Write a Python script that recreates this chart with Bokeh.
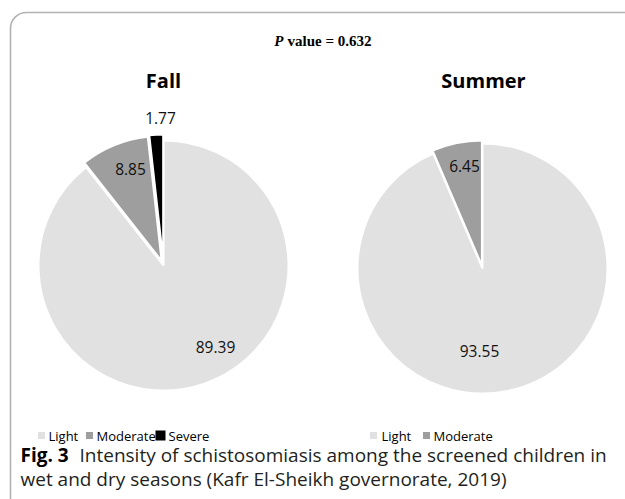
import math
from bokeh.plotting import figure
from bokeh.models import Range1d, BoxAnnotation, ColumnDataSource
from bokeh.core.properties import value
from bokeh.embed import file_html
from bokeh.resources import INLINE

# ---- data ----
categories = ["Light", "Moderate", "Severe"]
fall_values = [89.39, 8.85, 1.77]
summer_values = [93.55, 6.45]
season_titles = ["Fall", "Summer"]
p_value_label = "0.632"
colors = ["#e1e1e1", "#9e9e9e", "#000000"]
caption_bold = "Fig. 3"
caption_line1 = "Intensity of schistosomiasis among the screened children in"
caption_line2 = "wet and dry seasons (Kafr El-Sheikh governorate, 2019)"

W, H = 625, 499

def Y(y):  # reference screen y -> data y
    return H - y

p = figure(width=W, height=H, output_backend="svg", toolbar_location=None,
           x_range=Range1d(0, W), y_range=Range1d(0, H), min_border=0)
p.axis.visible = False
p.grid.visible = False
p.outline_line_color = None
p.background_fill_color = "white"

# rounded border
p.add_layout(BoxAnnotation(left=10, right=660, top=Y(12), bottom=Y(515),
                           border_radius=16, fill_color=None, fill_alpha=0,
                           line_color="black", line_width=1.6))

FONT = value("Open Sans")
CAP = value("Open Sans")

def pie(vals, cx, cy, r, explode, label_pos):
    total = sum(vals)
    a = 0.0
    xs, ys, st, en, col = [], [], [], [], []
    for i, v in enumerate(vals):
        b = a + v / total
        mid = 90 - 360 * (a + b) / 2
        d = explode[i]
        xs.append(cx + d * math.cos(math.radians(mid)))
        ys.append(Y(cy) + d * math.sin(math.radians(mid)))
        st.append(math.radians(90 - 360 * b))
        en.append(math.radians(90 - 360 * a))
        col.append(colors[i])
        a = b
    src = ColumnDataSource(dict(x=xs, y=ys, s=st, e=en, c=col))
    p.wedge(x="x", y="y", radius=r, start_angle="s", end_angle="e",
            direction="anticlock", fill_color="c", line_color="white",
            line_width=2, source=src)
    lsrc = ColumnDataSource(dict(x=[lp[0] for lp in label_pos],
                                 y=[Y(lp[1]) for lp in label_pos],
                                 t=[f"{v:.2f}" for v in vals]))
    p.text(x="x", y="y", text="t", source=lsrc, text_font=FONT,
           text_font_size="15.5px", text_align="center",
           text_baseline="middle", text_color="#111111")

pie(fall_values, 163, 265, 125, [0, 5, 6], [(215, 346), (130, 168), (160, 117)])
pie(summer_values, 482, 268, 125, [0, 3], [(479, 350), (464, 165)])

# titles
p.text(x=[163, 483], y=[Y(80), Y(80)], text=season_titles, text_font=CAP,
       text_font_style="bold", text_font_size="20px", text_align="center",
       text_baseline="middle", text_color="black")

# P value title
p.text(x=[283], y=[Y(40)], text=["P"], text_font=value("Liberation Serif"),
       text_font_style="bold italic", text_font_size="15px", text_align="right",
       text_baseline="middle", text_color="black")
p.text(x=[287], y=[Y(40)], text=["value = " + p_value_label],
       text_font=value("Liberation Serif"), text_font_style="bold",
       text_font_size="15px", text_align="left", text_baseline="middle",
       text_color="black")

# legends
LY = 435
def legend(items, sq_x, tx_x, sizes):
    p.rect(x=sq_x, y=[Y(LY)] * len(items), width=sizes, height=sizes,
           fill_color=[colors[categories.index(c)] for c in items],
           line_color=None)
    p.text(x=tx_x, y=[Y(LY)] * len(items), text=items, text_font=FONT,
           text_font_size="13px", text_align="left", text_baseline="middle",
           text_color="black")

legend(categories, [41, 89, 160], [48, 96, 168], [7, 7, 10])
legend(categories[:2], [373, 426], [381, 433], [7, 7])

# caption
p.text(x=[20], y=[Y(454)], text=[caption_bold], text_font=CAP,
       text_font_style="bold", text_font_size="19px", text_align="left",
       text_baseline="middle", text_color="black")
p.text(x=[79], y=[Y(454)], text=[caption_line1], text_font=CAP,
       text_font_size="19px", text_align="left", text_baseline="middle",
       text_color="#231f20")
p.text(x=[20], y=[Y(478)], text=[caption_line2], text_font=CAP,
       text_font_size="19px", text_align="left", text_baseline="middle",
       text_color="#231f20")

open("out.html", "w").write(file_html(p, INLINE))
